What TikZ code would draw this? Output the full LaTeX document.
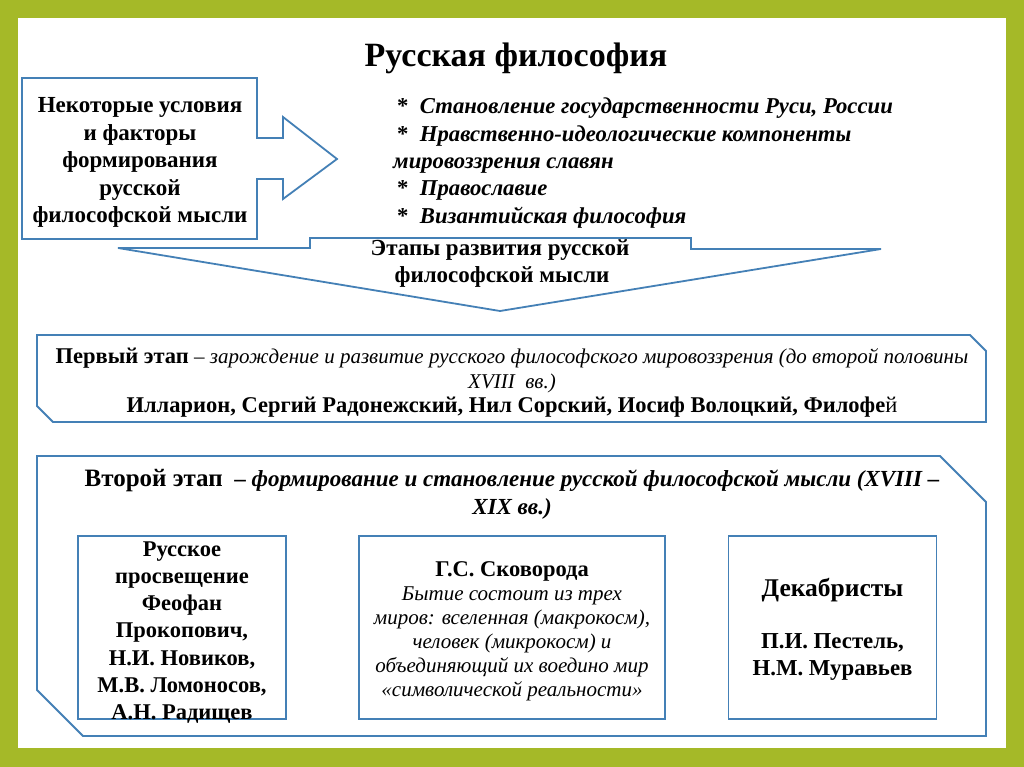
\documentclass[tikz,border=0pt]{standalone}
\usepackage{fontspec}
\setmainfont{Liberation Serif}
\usepackage{xcolor}
\definecolor{framegreen}{RGB}{165,185,40}
\definecolor{lineblue}{RGB}{68,128,182}
\usepackage{tikz}
\usetikzlibrary{positioning}

\begin{document}
\begin{tikzpicture}[
  x=1pt, y=-1pt,
  outline/.style={draw=lineblue, line width=1.8pt, line join=miter},
  txt/.style={inner sep=0pt, align=center},
  personbox/.style={rectangle, draw=lineblue, line width=1.8pt, inner sep=0pt,
    minimum height=183}
]
\useasboundingbox (0,0) rectangle (1024,767);

%% Frame
\fill[framegreen] (0,0) rectangle (1024,767);
\fill[white] (18,18) rectangle (1006,748);

%% Title
\node[txt, font=\fontsize{34}{40}\selectfont\bfseries] (title) at (516,58) {Русская философия};

%% Conditions arrow
\draw[outline] (22,78) -- (257,78) -- (257,138) -- (283,138) -- (283,117) -- (337,159)
  -- (283,199) -- (283,179) -- (257,179) -- (257,239) -- (22,239) -- cycle;
\node[txt, font=\fontsize{23}{27.5}\selectfont\bfseries] (cond) at (140,162.5)
  {Некоторые условия\\и факторы\\формирования\\русской\\философской мысли};

%% Factors list
\node[inner sep=0pt, align=left, anchor=west, font=\fontsize{22.7}{27.3}\selectfont\bfseries\itshape] (factors) at (393,163)
  {\hspace{4pt}{\upshape*}~~Становление государственности Руси, России\\
   \hspace{4pt}{\upshape*}~~Нравственно-идеологические компоненты\\
   мировоззрения славян\\
   \hspace{4pt}{\upshape*}~~Православие\\
   \hspace{4pt}{\upshape*}~~Византийская философия};

%% Stages arrow
\draw[outline] (118,248) -- (310,248) -- (310,238) -- (691,238) -- (691,249) -- (881,249)
  -- (500,311) -- cycle;
\node[txt, font=\fontsize{23}{27}\selectfont\bfseries] (stages) at (500,264)
  {Этапы развития русской\\\hspace{4pt}философской мысли};

%% First stage
\draw[outline] (37,335) -- (970,335) -- (986,351) -- (986,422) -- (53,422) -- (37,406) -- cycle;
\node[txt, font=\fontsize{21}{24.5}\selectfont] (first) at (512,383)
  {{\fontsize{22.5}{24.5}\selectfont\bfseries Первый этап} -- \itshape зарождение и развитие русского философского мировоззрения (до второй половины\\
   \itshape XVIII~~вв.)\\
   {\fontsize{22.5}{24.5}\selectfont\bfseries Илларион, Сергий Радонежский, Нил Сорский, Иосиф Волоцкий, Филофе}{\fontsize{22.5}{24.5}\selectfont й}};

%% Second stage
\draw[outline] (37,456) -- (940,456) -- (986,502) -- (986,736) -- (83,736) -- (37,690) -- cycle;
\node[txt, font=\fontsize{23}{28}\selectfont\bfseries] (second) at (512,494)
  {{\fontsize{25}{28}\selectfont Второй этап}~~-- \itshape формирование и становление русской философской мысли (XVIII --\\
   \itshape XIX вв.)};

%% Inner boxes
\node[personbox, minimum width=208] (enlight) at (182,627.5) {};
\node[txt, font=\fontsize{22.5}{27.3}\selectfont\bfseries] (enlighttxt) at (182,632.5)
  {Русское\\просвещение\\Феофан\\Прокопович,\\Н.И. Новиков,\\М.В. Ломоносов,\\А.Н. Радищев};

\node[personbox, minimum width=306] (skov) at (512,627.5) {};
\node[txt, font=\fontsize{21}{24}\selectfont\itshape] (skovtxt) at (512,631)
  {{\upshape\bfseries\fontsize{22.5}{24}\selectfont Г.С. Сковорода}\\
   Бытие состоит из трех\\миров: вселенная (макрокосм),\\человек (микрокосм) и\\объединяющий их воедино мир\\«символической реальности»};

\node[personbox, minimum width=208] (decemb) at (832.5,627.5) {};
\node[txt, font=\fontsize{22.8}{27}\selectfont\bfseries] (decembtxt) at (832.5,629.5)
  {{\fontsize{25.5}{27}\selectfont Декабристы}\\[25pt]П.И. Пестель,\\Н.М. Муравьев};

\end{tikzpicture}
\end{document}
